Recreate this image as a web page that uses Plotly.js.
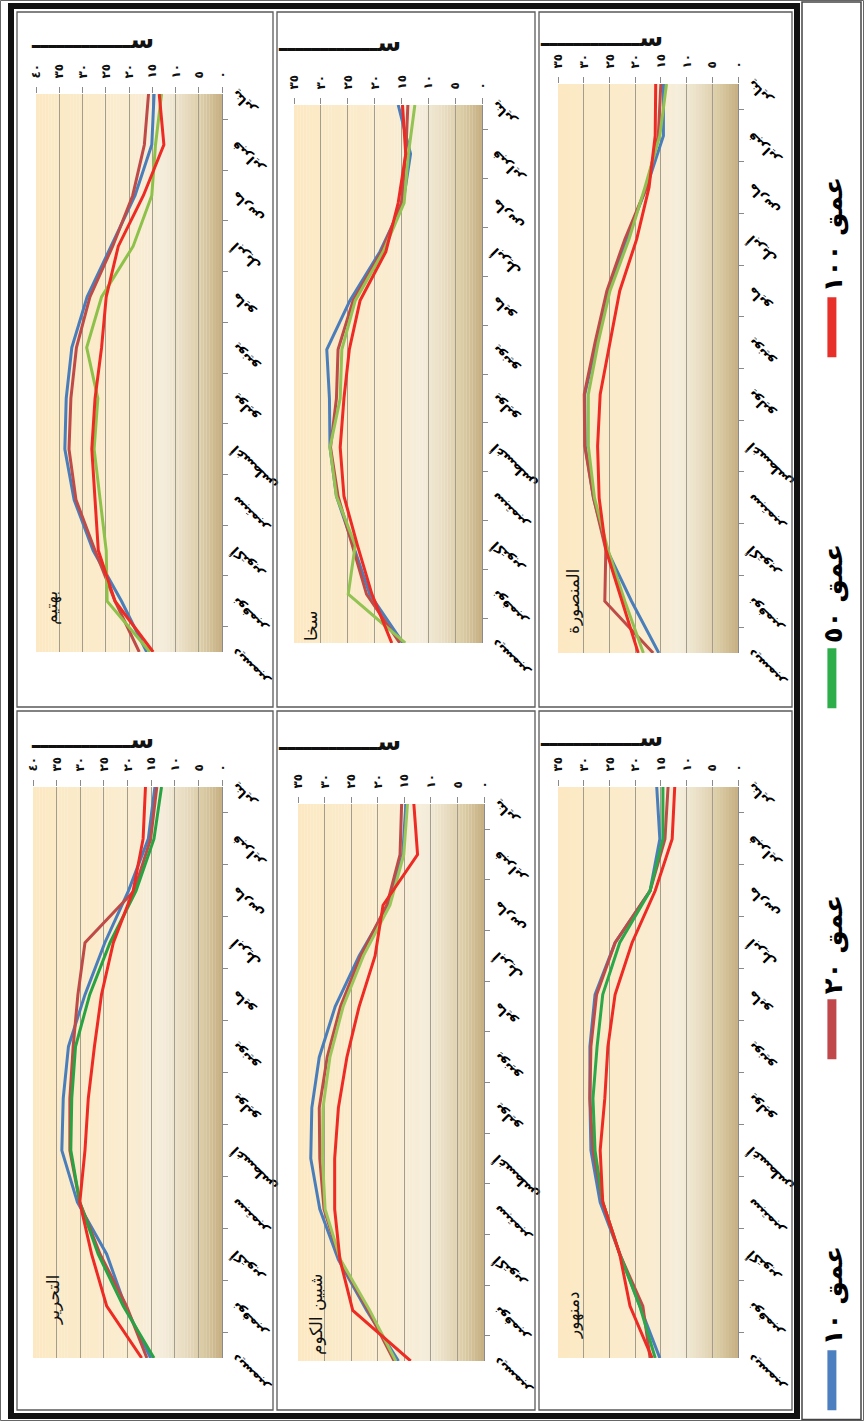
<!DOCTYPE html>
<html>
<head>
<meta charset="utf-8">
<script src="https://cdn.plot.ly/plotly-3.0.1.min.js"></script>
<style>
html,body{margin:0;padding:0;background:#fff;overflow:hidden;width:864px;height:1421px;}
#wrap{position:absolute;left:0;top:0;width:1421px;height:864px;transform-origin:0 0;transform:translate(0px,1421px) rotate(-90deg);}
</style>
</head>
<body>
<div id="wrap"></div>
<script>
// ---------------- data ----------------
const months = ['يناير','فبراير','مارس','أبريل','مايو','يونيو','يوليو','أغسطس','سبتمبر','أكتوبر','نوفمبر','ديسمبر'];
const depthLabels = ['عمق ١٠','عمق ٢٠','عمق ٥٠','عمق ١٠٠'];
const stationNames = ['بهتيم','سخا','المنصورة','التحرير','شبين الكوم','دمنهور'];
const tickVals40 = [0,5,10,15,20,25,30,35,40];
const tickText40 = ['٠','٥','١٠','١٥','٢٠','٢٥','٣٠','٣٥','٤٠'];
const tickVals35 = [0,5,10,15,20,25,30,35];
const tickText35 = ['٠','٥','١٠','١٥','٢٠','٢٥','٣٠','٣٥'];
const axisTitle = 'ســــــــــــ';

// بهتيم
const bahtim10  = [14.6,15.1,18.7,23.9,29.0,32.3,33.5,33.8,31.8,27.7,21.6,16.2];
const bahtim20  = [15.8,16.7,19.2,23.5,28.4,31.3,32.5,32.9,31.4,27.3,23.0,17.8];
const bahtim50  = [13.0,14.3,15.1,19.1,25.9,29.1,26.7,27.5,26.2,24.9,24.7,15.5];
const bahtim100 = [13.5,12.5,16.9,22.3,24.9,25.9,27.3,28.0,27.3,26.6,23.0,14.8];
// سخا
const sakha10  = [15.6,13.3,14.7,19.0,24.6,28.9,28.4,28.3,27.1,24.0,20.9,14.7];
const sakha20  = [13.8,14.2,15.0,18.7,24.0,26.8,27.1,28.2,26.8,24.1,21.5,15.3];
const sakha50  = [12.5,13.7,14.5,18.4,23.6,26.1,26.4,28.3,27.1,23.6,24.9,14.3];
const sakha100 = [14.8,14.2,15.6,17.9,22.7,24.7,25.7,26.4,25.7,23.2,20.5,16.8];
// المنصورة
const mansoura10  = [14.5,14.5,17.8,21.7,25.2,27.5,29.8,29.7,28.1,25.5,20.7,15.4];
const mansoura20  = [15.0,15.5,17.8,22.0,25.5,27.8,29.9,29.8,28.1,25.7,25.9,16.5];
const mansoura50  = [13.9,15.2,18.1,21.2,24.9,27.2,29.1,29.1,27.9,25.3,22.0,18.4];
const mansoura100 = [16.0,16.1,17.3,19.7,23.0,24.9,26.8,27.3,27.0,25.7,22.6,19.4];
// التحرير
const tahrir10  = [14.2,15.6,19.8,24.8,29.0,32.5,33.6,33.9,30.6,24.4,20.5,15.1];
const tahrir20  = [13.8,15.1,18.6,29.0,30.5,31.5,32.2,32.2,30.1,25.8,20.2,15.9];
const tahrir50  = [12.8,14.4,18.2,23.7,28.0,31.0,31.8,32.0,30.1,26.2,20.9,14.4];
const tahrir100 = [16.2,16.7,18.8,23.0,25.5,27.0,28.3,29.0,30.1,27.6,24.4,17.0];
// شبين الكوم
const shebin10  = [14.7,15.3,18.0,23.5,28.0,31.0,32.4,32.6,30.9,27.4,22.1,16.1];
const shebin20  = [15.5,15.8,18.3,23.2,27.0,29.5,31.0,30.9,30.1,27.1,21.8,16.9];
const shebin50  = [14.4,15.1,17.7,22.7,26.5,29.0,30.3,30.4,29.9,27.0,21.5,16.6];
const shebin100 = [13.2,12.5,19.0,20.5,23.5,25.8,27.4,28.1,28.1,27.1,24.7,13.8];
// دمنهور
const damanhour10  = [15.8,15.2,17.1,23.9,27.8,28.8,28.8,28.6,26.8,23.0,19.1,15.2];
const damanhour20  = [13.6,14.2,17.1,23.9,27.5,28.6,28.8,28.2,26.3,23.0,18.5,17.1];
const damanhour50  = [14.6,14.6,17.1,23.0,26.3,27.4,28.2,27.8,26.3,23.0,19.1,16.1];
const damanhour100 = [12.3,12.8,16.1,20.6,23.9,25.3,25.9,26.8,26.3,23.0,21.0,16.7];

// ---------------- layout helpers ----------------
const W = 1421, H = 864;
const px = v => v / W;
const py = v => 1 - v / H;
const FONT = 'DejaVu Sans';

const depthColors = ['#4A7EBB', '#BE4B48', null, '#EE2A24'];
const legendColors = ['#4C7FC0', '#C0474A', '#2DAE4A', '#E8302A'];

const panels = [
  {name: stationNames[0], series: [bahtim10, bahtim20, bahtim50, bahtim100], green: '#8DC149', max: 40,
   box: [769, 1327, 36, 222], title: [1381, 92], label: [0.045, 0.985]},
  {name: stationNames[1], series: [sakha10, sakha20, sakha50, sakha100], green: '#92C353', max: 35,
   box: [778, 1316, 294, 482], title: [1378, 339], label: [0.0, 0.975]},
  {name: stationNames[2], series: [mansoura10, mansoura20, mansoura50, mansoura100], green: '#92C050', max: 35,
   box: [768, 1337, 558, 738], title: [1383, 601], label: [0.03, 0.985]},
  {name: stationNames[3], series: [tahrir10, tahrir20, tahrir50, tahrir100], green: '#27A343', max: 40,
   box: [63, 634, 33, 222], title: [681, 92], label: [0.054, 0.96]},
  {name: stationNames[4], series: [shebin10, shebin20, shebin50, shebin100], green: '#9BC75A', max: 35,
   box: [60, 617, 298, 484], title: [679, 339], label: [0.007, 0.97]},
  {name: stationNames[5], series: [damanhour10, damanhour20, damanhour50, damanhour100], green: '#2BA84A', max: 35,
   box: [63, 634, 558, 738], title: [683, 601], label: [0.03, 0.985]}
];

// background gradient stops (t=0 at top/max value, t=1 at zero)
const stops = [[0,[252,233,195]],[0.5,[250,236,207]],[0.68,[245,237,220]],[0.8,[232,221,193]],[0.9,[218,202,164]],[1,[198,175,130]]];
function gradColor(t){
  for (let i=1;i<stops.length;i++){
    if (t<=stops[i][0]){
      const a=stops[i-1], b=stops[i], f=(t-a[0])/(b[0]-a[0]);
      const c=a[1].map((v,k)=>Math.round(v+(b[1][k]-v)*f));
      return 'rgb('+c.join(',')+')';
    }
  }
  return 'rgb(198,175,130)';
}

const traces = [];
const layout = {
  width: W, height: H,
  margin: {l:0, r:0, t:0, b:0},
  paper_bgcolor: '#ffffff',
  plot_bgcolor: 'rgba(0,0,0,0)',
  showlegend: true,
  font: {family: FONT, color: '#111'},
  shapes: [], annotations: [],
  legend: {
    orientation: 'h', x: 0.004, xanchor: 'left', y: py(832), yanchor: 'middle',
    entrywidth: 276, entrywidthmode: 'pixels', itemwidth: 60,
    font: {family: FONT, size: 26, color: '#000', weight: 'bold'},
    bgcolor: 'rgba(0,0,0,0)', traceorder: 'normal'
  }
};

panels.forEach((p, i) => {
  const s = i === 0 ? '' : String(i + 1);
  const xa = 'x' + s, ya = 'y' + s;
  const colors = [depthColors[0], depthColors[1], p.green, depthColors[3]];
  p.series.forEach((vals, d) => {
    traces.push({
      type: 'scatter', mode: 'lines', x: months, y: vals, xaxis: xa, yaxis: ya,
      line: {color: colors[d], width: 3}, showlegend: false, hoverinfo: 'skip'
    });
  });
  const is40 = p.max === 40;
  layout['xaxis' + s] = {
    domain: [px(p.box[0]), px(p.box[1])], anchor: ya, type: 'category',
    categoryorder: 'array', categoryarray: months, autorange: 'reversed',
    tickangle: -45, ticks: 'outside', tickson: 'boundaries', ticklen: 5,
    tickcolor: '#8a8a8a', showline: true, linecolor: '#8a8a8a', linewidth: 1,
    showgrid: false, zeroline: false, fixedrange: true,
    tickfont: {family: FONT, size: 13, color: '#000', weight: 'bold'}
  };
  layout['yaxis' + s] = {
    domain: [py(p.box[3]), py(p.box[2])], anchor: xa, side: 'right',
    range: [0, p.max], tickvals: is40 ? tickVals40 : tickVals35,
    ticktext: is40 ? tickText40 : tickText35,
    ticks: 'outside', ticklen: 6, tickcolor: '#8a8a8a', ticklabelstandoff: 6,
    showgrid: true, gridcolor: '#A39D8E', gridwidth: 1, zeroline: false,
    showline: false, fixedrange: true,
    tickfont: {family: FONT, size: 12, color: '#111', weight: 'bold'}
  };
  // gradient background strips
  const N = 60;
  for (let k = 0; k < N; k++) {
    const t = (k + 0.5) / N;
    layout.shapes.push({
      type: 'rect', layer: 'below', xref: xa + ' domain', yref: ya + ' domain',
      x0: 0, x1: 1, y0: 1 - (k + 1.05) / N, y1: 1 - k / N,
      fillcolor: gradColor(t), line: {width: 0}
    });
  }
  // station label
  layout.annotations.push({
    xref: xa + ' domain', yref: ya + ' domain', x: p.label[0], y: p.label[1],
    xanchor: 'left', yanchor: 'top', showarrow: false, text: p.name,
    font: {family: FONT, size: 17, color: '#111'}
  });
  // value-axis title
  layout.annotations.push({
    xref: 'paper', yref: 'paper', x: px(p.title[0]), y: py(p.title[1]),
    xanchor: 'center', yanchor: 'middle', showarrow: false, textangle: 90,
    text: axisTitle, font: {family: FONT, size: 24, color: '#111', weight: 'bold'}
  });
});

// legend-only traces
depthLabels.forEach((nm, d) => {
  traces.push({
    type: 'scatter', mode: 'lines', x: [null], y: [null], xaxis: 'x', yaxis: 'y',
    name: nm, line: {color: legendColors[d], width: 9}, showlegend: true, hoverinfo: 'skip'
  });
});

// frames
const rectPx = (x0, x1, y0, y1, w, c) => ({
  type: 'rect', xref: 'paper', yref: 'paper', layer: 'above',
  x0: px(x0), x1: px(x1), y0: py(y1), y1: py(y0), line: {width: w, color: c}, fillcolor: 'rgba(0,0,0,0)'
});
const colsX = [[9, 712], [712, 1411]];
const rowsY = [[15, 275], [275, 537], [537, 794]];
colsX.forEach(c => rowsY.forEach(r => layout.shapes.push(rectPx(c[0] + 2, c[1] - 2, r[0] + 2, r[1] - 2, 1.3, '#5a5a5a'))));
layout.shapes.push(rectPx(0.5, 1420.5, 0.5, 863.5, 1, '#666'));
layout.shapes.push(rectPx(5, 1415, 11, 797, 6, '#111'));
layout.shapes.push(rectPx(1.5, 1419, 802, 861, 1.5, '#444'));

Plotly.newPlot('wrap', traces, layout, {staticPlot: true, responsive: false});
</script>
</body>
</html>
